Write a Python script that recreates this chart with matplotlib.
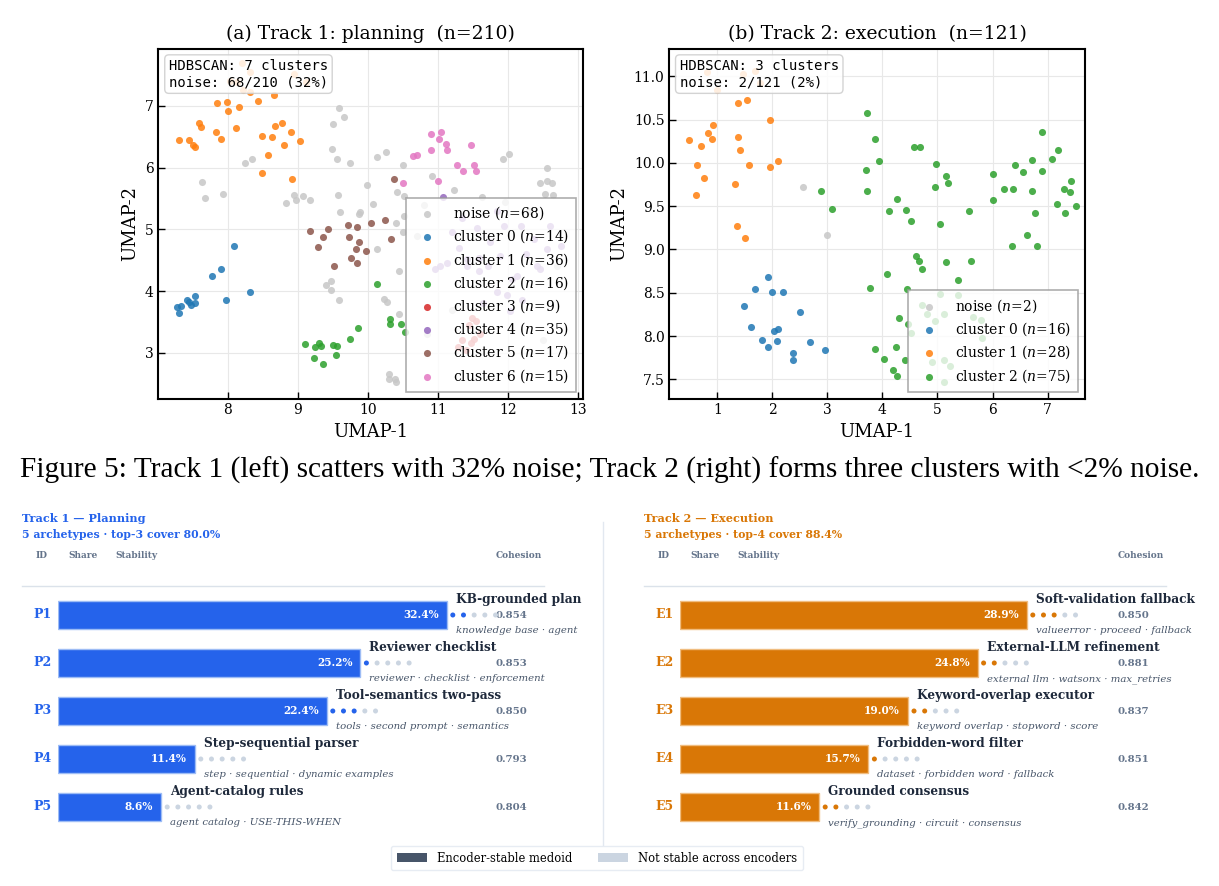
import numpy as np
import matplotlib
matplotlib.use("Agg")
from matplotlib import pyplot as plt
from matplotlib.patches import Patch
from matplotlib.lines import Line2D

plt.rcParams['font.family'] = 'DejaVu Serif'
plt.rcParams['mathtext.fontset'] = 'dejavuserif'

# ---- Track 1 (planning) UMAP points ----
t1_noise = [(9.59, 6.97), (9.66, 6.82), (9.50, 6.70), (9.49, 6.31), (9.56, 6.14), (9.74, 6.08),
            (10.13, 6.18), (10.26, 6.25), (10.50, 6.05), (10.91, 5.87), (11.23, 5.64), (11.63, 5.53),
            (11.93, 6.14), (12.02, 6.22), (12.55, 6.00), (12.46, 5.75), (12.55, 5.79), (12.63, 5.75),
            (12.53, 5.57), (12.64, 5.56), (8.25, 6.07), (8.34, 6.14), (7.64, 5.77), (7.67, 5.50),
            (7.94, 5.57), (8.83, 5.43), (8.95, 5.56), (8.97, 5.47), (9.08, 5.54), (9.17, 5.48),
            (9.57, 5.55), (9.60, 5.28), (9.87, 5.25), (9.89, 5.28), (9.99, 5.72), (10.08, 5.41),
            (10.41, 5.61), (10.52, 5.54), (10.40, 5.11), (10.52, 5.22), (10.50, 4.95), (10.13, 4.68),
            (10.44, 4.32), (9.40, 4.10), (9.48, 4.17), (9.47, 4.02), (9.59, 3.86), (10.23, 3.87),
            (10.28, 3.82), (10.44, 3.63), (10.30, 2.66), (10.30, 2.58), (10.39, 2.57), (10.40, 2.52),
            (10.70, 4.90), (10.80, 5.40), (12.30, 5.30), (11.95, 5.45), (12.70, 4.40), (11.20, 3.70),
            (10.85, 3.30), (12.50, 3.20)]
t1_c0 = [(7.27, 3.74), (7.33, 3.76), (7.30, 3.64), (7.42, 3.85), (7.47, 3.78), (7.54, 3.92),
         (7.53, 3.81), (7.45, 3.82), (7.78, 4.25), (7.91, 4.36), (7.97, 3.86), (8.09, 4.73), (8.32, 3.98)]
t1_c1 = [(7.31, 6.45), (7.45, 6.44), (7.51, 6.37), (7.54, 6.33), (7.59, 6.73), (7.62, 6.66),
         (7.84, 6.58), (7.90, 6.47), (7.85, 7.05), (7.99, 7.06), (8.00, 6.91), (8.16, 6.98),
         (8.12, 6.64), (8.43, 7.08), (8.66, 7.17), (8.22, 7.25), (8.32, 7.23), (8.49, 6.52),
         (8.58, 6.20), (8.63, 6.50), (8.67, 6.67), (8.77, 6.73), (8.81, 6.36), (8.90, 6.57),
         (9.03, 6.43), (8.49, 5.92), (8.92, 5.81), (8.20, 7.69), (8.03, 7.40), (8.14, 7.39),
         (8.94, 7.51), (9.12, 7.39), (8.32, 7.55)]
t1_c2 = [(9.10, 3.15), (9.25, 3.09), (9.31, 3.16), (9.33, 3.11), (9.23, 2.91), (9.36, 2.82),
         (9.50, 3.13), (9.56, 3.11), (9.55, 2.97), (9.75, 3.22), (9.86, 3.40), (10.13, 4.11),
         (10.31, 3.54), (10.32, 3.47), (10.47, 3.47), (10.53, 3.33)]
t1_c3 = [(11.28, 3.10), (11.47, 3.16), (11.49, 3.56), (11.54, 3.51), (11.35, 3.20),
         (11.52, 3.22), (11.40, 3.05), (11.60, 3.30), (11.44, 3.45)]
t1_c4 = [(11.07, 5.52), (11.35, 5.19), (11.56, 5.03), (11.94, 5.06), (12.18, 5.06), (12.37, 4.84),
         (12.56, 4.68), (12.75, 4.73), (10.96, 4.36), (11.03, 4.41), (11.13, 4.46), (11.41, 4.52),
         (11.58, 4.54), (11.72, 4.41), (11.89, 4.57), (12.13, 4.25), (12.41, 4.41), (12.46, 4.36),
         (11.84, 3.98), (12.03, 3.68), (11.99, 3.94), (12.06, 4.19), (11.59, 4.32), (11.42, 4.40),
         (11.20, 4.95), (11.75, 4.80), (12.25, 4.60), (11.85, 5.30), (12.60, 5.05), (11.30, 4.70),
         (12.20, 3.85), (11.65, 3.80)]
t1_c5 = [(9.17, 4.98), (9.29, 4.71), (9.36, 4.88), (9.43, 5.00), (9.52, 4.41), (9.71, 5.07),
         (9.73, 4.88), (9.84, 5.04), (9.87, 4.79), (9.83, 4.68), (9.76, 4.54), (9.85, 4.45),
         (9.98, 4.65), (10.04, 5.11), (10.24, 5.15), (10.33, 4.84), (10.38, 5.82)]
t1_c6 = [(10.90, 6.55), (11.05, 6.58), (11.02, 6.46), (11.12, 6.39), (11.13, 6.28), (10.90, 6.29),
         (11.47, 6.37), (10.64, 6.19), (10.70, 6.21), (10.50, 5.75), (11.00, 5.79), (11.27, 6.05),
         (11.36, 5.94), (11.51, 6.05), (11.54, 5.94)]
t1_groups = [t1_noise, t1_c0, t1_c1, t1_c2, t1_c3, t1_c4, t1_c5, t1_c6]
t1_labels = [r'noise ($n$=68)', r'cluster 0 ($n$=14)', r'cluster 1 ($n$=36)', r'cluster 2 ($n$=16)',
             r'cluster 3 ($n$=9)', r'cluster 4 ($n$=35)', r'cluster 5 ($n$=17)', r'cluster 6 ($n$=15)']

# ---- Track 2 (execution) ----
t2_noise = [(2.55, 9.72), (3.00, 9.17)]
t2_c0 = [(1.92, 8.68), (1.69, 8.54), (1.99, 8.51), (2.19, 8.51), (1.48, 8.35), (2.50, 8.28),
         (1.61, 8.11), (2.03, 8.06), (2.11, 8.08), (1.82, 7.95), (1.92, 7.88), (2.08, 7.94),
         (2.38, 7.80), (2.38, 7.72), (2.68, 7.93), (2.95, 7.84)]
t2_c1 = [(0.49, 10.26), (0.70, 10.19), (0.84, 10.34), (0.93, 10.44), (0.90, 10.28), (0.63, 9.98),
         (0.75, 9.83), (0.61, 9.63), (1.38, 10.69), (1.54, 10.73), (1.95, 10.50), (1.38, 10.30),
         (1.41, 10.15), (1.57, 9.97), (1.33, 9.76), (1.96, 9.95), (2.10, 10.02), (1.35, 9.27),
         (1.51, 9.13), (1.00, 10.84), (1.47, 11.03), (1.68, 11.06), (0.81, 11.05), (1.78, 10.92)]
t2_c2 = [(3.72, 10.57), (3.87, 10.28), (3.93, 10.02), (3.71, 9.92), (3.72, 9.67), (2.88, 9.68),
         (3.08, 9.47), (4.12, 9.45), (4.27, 9.58), (4.42, 9.46), (4.52, 9.33), (4.58, 10.18),
         (4.68, 10.18), (4.98, 9.99), (5.16, 9.85), (5.19, 9.77), (4.95, 9.72), (5.05, 9.29),
         (5.57, 9.45), (6.01, 9.87), (6.01, 9.57), (6.21, 9.70), (6.38, 9.70), (6.40, 9.97),
         (6.55, 9.90), (6.71, 10.03), (6.72, 9.67), (6.90, 9.91), (6.89, 10.36), (7.08, 10.05),
         (7.19, 10.15), (7.17, 9.53), (6.77, 9.42), (7.32, 9.42), (7.30, 9.70), (7.42, 9.79),
         (7.41, 9.66), (7.52, 9.50), (6.36, 9.04), (6.63, 9.17), (6.81, 9.04), (4.61, 8.92),
         (4.67, 8.87), (4.72, 8.77), (5.16, 8.85), (5.61, 8.87), (5.38, 8.65), (4.08, 8.72),
         (3.77, 8.56), (4.44, 8.54), (4.31, 8.21), (4.46, 8.14), (4.52, 8.04), (3.87, 7.85),
         (4.03, 7.74), (4.25, 7.87), (4.19, 7.61), (4.41, 7.72), (4.27, 7.54), (5.04, 8.49),
         (5.38, 8.47), (4.72, 8.36), (4.81, 8.26), (4.96, 8.17), (5.11, 8.25), (5.65, 8.22),
         (5.79, 8.19), (5.81, 7.98), (4.90, 7.70), (5.11, 7.72), (5.23, 7.65), (5.11, 7.47)]
t2_groups = [t2_noise, t2_c0, t2_c1, t2_c2]
t2_labels = [r'noise ($n$=2)', r'cluster 0 ($n$=16)', r'cluster 1 ($n$=28)', r'cluster 2 ($n$=75)']

cluster_colors = ['#c7c7c7', '#1f77b4', '#ff7f0e', '#2ca02c', '#d62728', '#9467bd', '#8c564b', '#e377c2']

# ---- archetype panels ----
p_ids = ['P1', 'P2', 'P3', 'P4', 'P5']
p_names = ['KB-grounded plan', 'Reviewer checklist', 'Tool-semantics two-pass',
           'Step-sequential parser', 'Agent-catalog rules']
p_share = [32.4, 25.2, 22.4, 11.4, 8.6]
p_stable = [2, 1, 3, 0, 0]
p_cohesion = [0.854, 0.853, 0.850, 0.793, 0.804]
p_keywords = ['knowledge base · agent', 'reviewer · checklist · enforcement',
              'tools · second prompt · semantics', 'step · sequential · dynamic examples',
              'agent catalog · USE-THIS-WHEN']

e_ids = ['E1', 'E2', 'E3', 'E4', 'E5']
e_names = ['Soft-validation fallback', 'External-LLM refinement', 'Keyword-overlap executor',
           'Forbidden-word filter', 'Grounded consensus']
e_share = [28.9, 24.8, 19.0, 15.7, 11.6]
e_stable = [3, 2, 2, 1, 2]
e_cohesion = [0.850, 0.881, 0.837, 0.851, 0.842]
e_keywords = ['valueerror · proceed · fallback', 'external llm · watsonx · max_retries',
              'keyword overlap · stopword · score', 'dataset · forbidden word · fallback',
              'verify_grounding · circuit · consensus']

W, H = 1219, 886
fig = plt.figure(figsize=(W / 100, H / 100), dpi=100)


def px_axes(x0, y0, x1, y1):
    return fig.add_axes([x0 / W, 1 - y1 / H, (x1 - x0) / W, (y1 - y0) / H])


def scatter_panel(ax, groups, labels, title, box, xlim, ylim, yticks):
    for pts, lab, col in zip(groups, labels, cluster_colors):
        xs = [p[0] for p in pts]
        ys = [p[1] for p in pts]
        ax.scatter(xs, ys, s=26, color=col, alpha=0.85, linewidths=0, label=lab, zorder=3)
    ax.set_xlim(*xlim)
    ax.set_ylim(*ylim)
    ax.set_yticks(yticks)
    ax.grid(True, color='#e8e8e8', linewidth=0.8, zorder=0)
    ax.set_axisbelow(True)
    for s in ax.spines.values():
        s.set_linewidth(1.5)
    ax.tick_params(direction='in', length=5, width=1, labelsize=10)
    ax.set_title(title, fontsize=13.5, pad=7)
    ax.set_xlabel('UMAP-1', fontsize=13)
    ax.set_ylabel('UMAP-2', fontsize=13)
    ax.text(0.025, 0.97, box, transform=ax.transAxes, va='top', ha='left',
            family='DejaVu Sans Mono', fontsize=10, zorder=5,
            bbox=dict(boxstyle='round,pad=0.3', fc='white', ec='#cccccc', alpha=0.85))
    leg = ax.legend(loc='lower right', fontsize=10, frameon=True, fancybox=False,
                    edgecolor='#999999', framealpha=0.8, labelspacing=0.4,
                    handletextpad=0.9, borderpad=0.5)
    leg.get_frame().set_linewidth(1.2)


ax1 = px_axes(158.3, 48.5, 583, 398.5)
scatter_panel(ax1, t1_groups, t1_labels, '(a) Track 1: planning  (n=210)',
              'HDBSCAN: 7 clusters\nnoise: 68/210 (32%)', (7.01, 13.07), (2.26, 7.93),
              [3, 4, 5, 6, 7])
ax1.set_xticks([8, 9, 10, 11, 12, 13])

ax2 = px_axes(669.3, 48.5, 1085, 398.5)
scatter_panel(ax2, t2_groups, t2_labels, '(b) Track 2: execution  (n=121)',
              'HDBSCAN: 3 clusters\nnoise: 2/121 (2%)', (0.128, 7.68), (7.28, 11.32),
              [7.5, 8.0, 8.5, 9.0, 9.5, 10.0, 10.5, 11.0])
ax2.set_xticks([1, 2, 3, 4, 5, 6, 7])

fig.text(0.5, 1 - 470 / H,
         'Figure 5: Track 1 (left) scatters with 32% noise; Track 2 (right) forms three clusters with <2% noise.',
         ha='center', va='center', family='Liberation Serif', fontsize=21.2)

MUTED = '#cbd5e1'
ROW0, ROWH = 615, 48


def archetype_panel(ax, ids, names, shares, stable, cohesion, keywords, color, edge, head1, head2):
    rows = np.arange(len(ids))
    ax.barh(rows, shares, height=28 / ROWH, color=color, edgecolor=edge, linewidth=1.0)
    ax.set_xlim(0, 40)
    ax.set_ylim((880 - ROW0) / ROWH, (500 - ROW0) / ROWH)
    ax.axis('off')
    ax.text(-3.0, (518 - ROW0) / ROWH, head1, color=color, weight='bold', fontsize=8.1,
            ha='left', va='center', clip_on=False)
    ax.text(-3.0, (534 - ROW0) / ROWH, head2, color=color, weight='bold', fontsize=7.8,
            ha='left', va='center', clip_on=False)
    hy = (556 - ROW0) / ROWH
    for hx, ht in [(-1.83, 'ID'), (0.83, 'Share'), (4.75, 'Stability'), (36.5, 'Cohesion')]:
        ax.text(hx, hy, ht, color='#64748b', weight='bold', fontsize=6.5, ha='left', va='center',
                clip_on=False)
    ax.plot([-3.0, 40.5], [(586 - ROW0) / ROWH] * 2, color='#dbe2ea', lw=1, clip_on=False)
    for i in rows:
        end = shares[i]
        ax.text(-1.3, i, ids[i], color=color, weight='bold', fontsize=9, ha='center', va='center',
                clip_on=False)
        ax.text(end - 0.67, i, f'{shares[i]:.1f}%', color='white', weight='bold', fontsize=7.6,
                ha='right', va='center')
        ax.text(36.5, i, f'{cohesion[i]:.3f}', color='#64748b', weight='bold', fontsize=7.3,
                ha='left', va='center', clip_on=False)
        dx = end + 0.5 + 0.89 * np.arange(5)
        dc = [color if k < stable[i] else MUTED for k in range(5)]
        ax.scatter(dx, [i] * 5, s=13, c=dc, linewidths=0, zorder=4, clip_on=False)
        ax.text(end + 0.75, i - 0.32, names[i], color='#1e293b', weight='bold', fontsize=8.7,
                ha='left', va='center', clip_on=False)
        ax.text(end + 0.75, i + 0.33, keywords[i], color='#475569', style='italic', fontsize=7.3,
                ha='left', va='center', clip_on=False)


ax3 = px_axes(58, 500, 538, 880)
archetype_panel(ax3, p_ids, p_names, p_share, p_stable, p_cohesion, p_keywords,
                '#2563eb', '#9dbcf5', 'Track 1 — Planning', '5 archetypes · top-3 cover 80.0%')
ax4 = px_axes(680, 500, 1160, 880)
archetype_panel(ax4, e_ids, e_names, e_share, e_stable, e_cohesion, e_keywords,
                '#d97706', '#f0bd80', 'Track 2 — Execution', '5 archetypes · top-4 cover 88.4%')

fig.add_artist(Line2D([603 / W, 603 / W], [1 - 522 / H, 1 - 845 / H], color='#e2e8f0', lw=1))

handles = [Patch(facecolor='#475569', edgecolor='none', label='Encoder-stable medoid'),
           Patch(facecolor=MUTED, edgecolor='none', label='Not stable across encoders')]
fig.legend(handles=handles, loc='center', bbox_to_anchor=(597 / W, 1 - 858 / H), ncol=2,
           fontsize=8.3, frameon=True, edgecolor='#e2e8f0', fancybox=True,
           handlelength=2.6, handleheight=0.9, handletextpad=0.9, columnspacing=2.2,
           borderpad=0.5)

fig.savefig('out.png', dpi=100)
